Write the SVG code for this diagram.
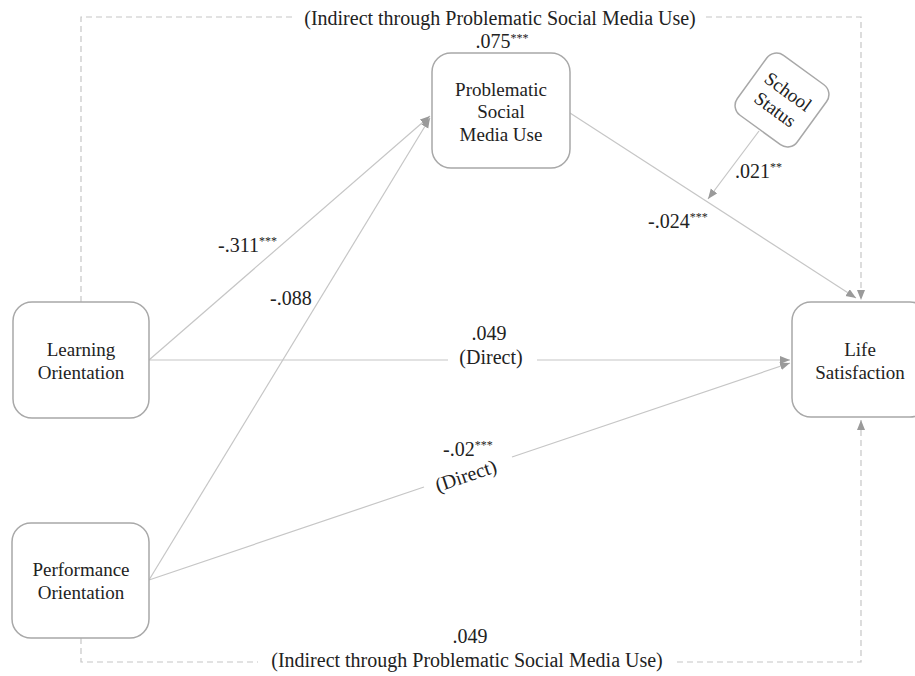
<svg xmlns="http://www.w3.org/2000/svg" width="915" height="676" viewBox="0 0 915 676">
<style>
text{font-family:"Liberation Serif","Times New Roman",serif;fill:#222;}
.node rect{fill:#fff;stroke:#a8a8a8;stroke-width:1.5;}
.nt{font-size:19px;text-anchor:middle;}
.lb{font-size:20px;}
.c{text-anchor:middle;}
.sup{font-size:12px;}
.ln{fill:none;stroke:#c6c6c6;stroke-width:1.2;}
.ds{fill:none;stroke:#c6c6c6;stroke-width:1.2;stroke-dasharray:6 4;}
</style>
<defs>
<marker id="ah" markerUnits="userSpaceOnUse" markerWidth="11" markerHeight="9" refX="10" refY="4" orient="auto">
<path d="M0,0 L10,4 L0,8 z" fill="#9a9a9a"/>
</marker>
</defs>
<rect width="915" height="676" fill="#fff"/>
<g id="connectors">
<path class="ds" d="M81,302 V17 H292"/>
<path class="ds" d="M706,17 H861 V300" marker-end="url(#ah)"/>
<path class="ds" d="M81,638 V662 H258"/>
<path class="ds" d="M677,662 H861 V420" marker-end="url(#ah)"/>
<path class="ln" d="M149,360 L430,116" marker-end="url(#ah)"/>
<path class="ln" d="M149,580 L430,118" marker-end="url(#ah)"/>
<path class="ln" d="M149,360 H448"/>
<path class="ln" d="M537,360 H790" marker-end="url(#ah)"/>
<path class="ln" d="M149,580 L424,487"/>
<path class="ln" d="M512,457 L790,363" marker-end="url(#ah)"/>
<path class="ln" d="M570,113 L856,298" marker-end="url(#ah)"/>
<path class="ln" d="M759,131 L708,199" marker-end="url(#ah)"/>
</g>
<g id="labels">
<text class="lb c" x="500" y="25">(Indirect through Problematic Social Media Use)</text>
<text class="lb c" x="502" y="48">.075<tspan class="sup" dy="-6">***</tspan></text>
<text class="lb c" x="470" y="643">.049</text>
<text class="lb c" x="467" y="667">(Indirect through Problematic Social Media Use)</text>
<text class="lb" x="218" y="252">-.311<tspan class="sup" dy="-7">***</tspan></text>
<text class="lb" x="270" y="305">-.088</text>
<text class="lb c" x="489" y="340">.049</text>
<text class="lb c" x="491" y="364">(Direct)</text>
<text class="lb" x="443" y="456">-.02<tspan class="sup" dy="-7">***</tspan></text>
<text class="lb c" x="468" y="482" transform="rotate(-18.7 468 482)">(Direct)</text>
<text class="lb" x="648" y="228">-.024<tspan class="sup" dy="-7">***</tspan></text>
<text class="lb" x="735" y="178">.021<tspan class="sup" dy="-7">**</tspan></text>
</g>
<g id="psmu" class="node">
<rect x="432" y="53" width="138" height="115" rx="19"/>
<text class="nt" x="501" y="96">Problematic</text>
<text class="nt" x="501" y="118">Social</text>
<text class="nt" x="501" y="141">Media Use</text>
</g>
<g id="learning" class="node">
<rect x="13" y="302" width="136" height="116" rx="19"/>
<text class="nt" x="81" y="356">Learning</text>
<text class="nt" x="81" y="379">Orientation</text>
</g>
<g id="performance" class="node">
<rect x="12" y="523" width="137" height="115" rx="19"/>
<text class="nt" x="81" y="576">Performance</text>
<text class="nt" x="81" y="599">Orientation</text>
</g>
<g id="life" class="node">
<rect x="792" y="302" width="137" height="115" rx="19"/>
<text class="nt" x="860" y="356">Life</text>
<text class="nt" x="860" y="379">Satisfaction</text>
</g>
<g id="school" class="node" transform="translate(782,100) rotate(36)">
<rect x="-37" y="-37" width="74" height="74" rx="12"/>
<text class="nt" x="0" y="-4">School</text>
<text class="nt" x="0" y="18">Status</text>
</g>
</svg>
